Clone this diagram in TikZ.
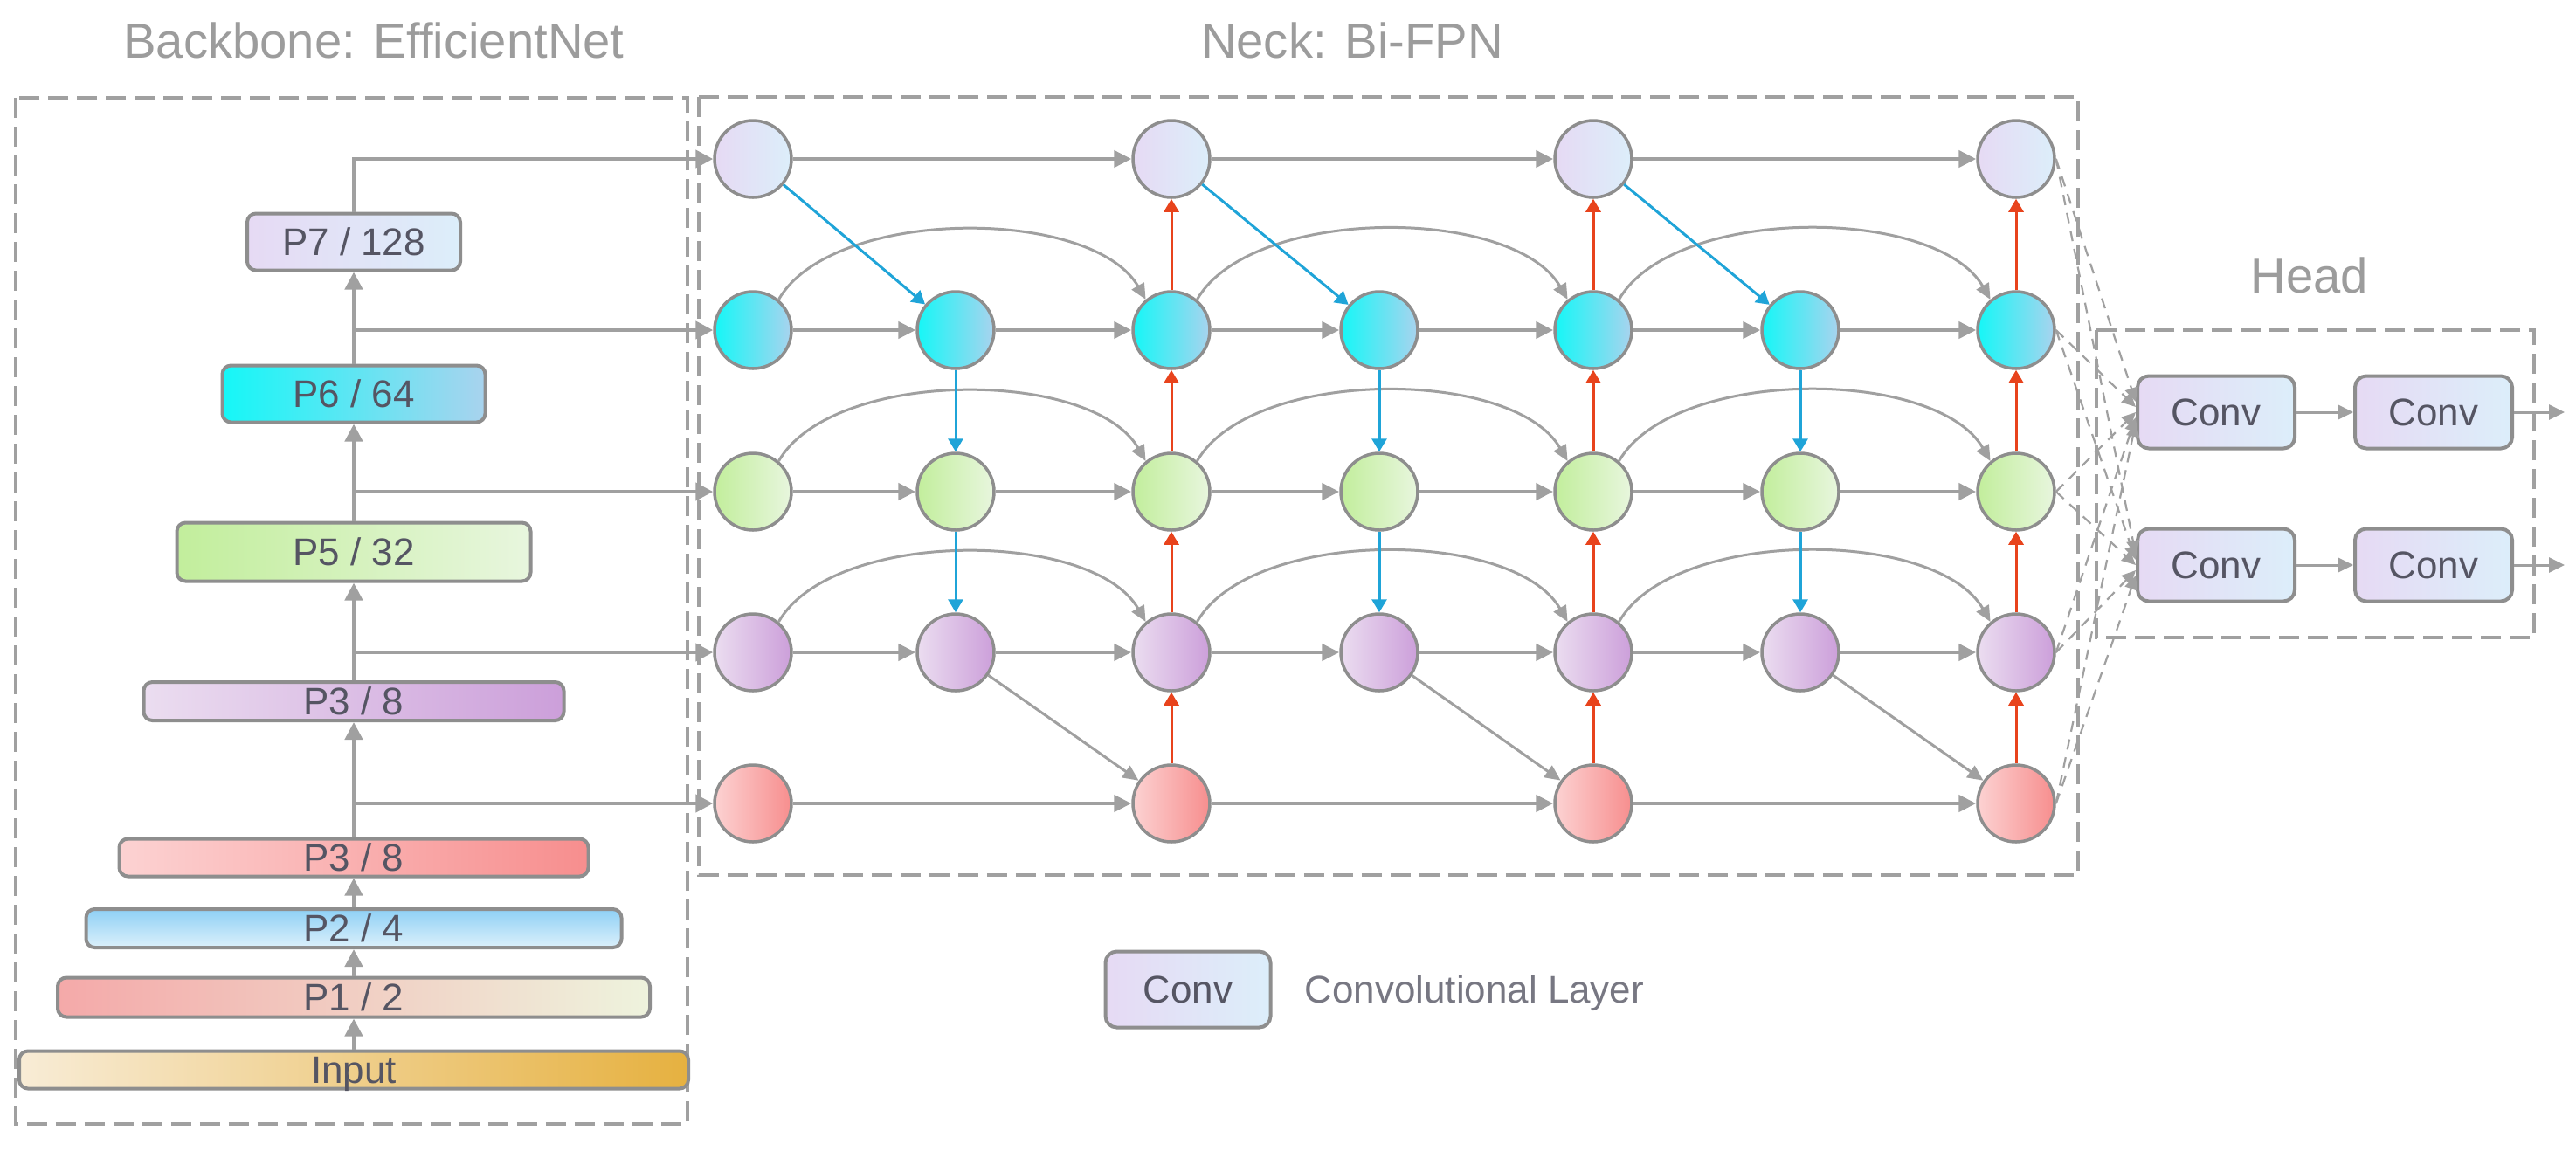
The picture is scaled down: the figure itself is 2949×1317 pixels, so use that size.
\documentclass[tikz,border=0pt]{standalone}
\usepackage{fontspec}
\setmainfont{Liberation Sans}
\usetikzlibrary{arrows.meta,calc}
\definecolor{lg}{HTML}{A0A0A0}
\definecolor{bord}{HTML}{8E8E8E}
\definecolor{redc}{HTML}{E8431C}
\definecolor{bluec}{HTML}{1FA4D8}
\definecolor{labtext}{HTML}{555563}
\definecolor{ttltext}{HTML}{9C9C9C}
\newcommand\labfnt{\fontsize{12.5}{14}\selectfont}
\newcommand\ttlfnt{\fontsize{16}{19}\selectfont}
\tikzset{
  dashbox/.style={draw=lg, line width=0.4mm, dash pattern=on 2.3mm off 1mm},
  bbox/.style={draw=bord, line width=0.4mm, rounded corners=1mm, inner sep=0pt,
    text=labtext, font=\labfnt, text height=8.95pt, text depth=0pt},
  convbox/.style={bbox, left color=lv7l, right color=lv7r, minimum width=18mm, minimum height=8.3mm, rounded corners=1.3mm},
  neckc/.style={circle, draw=bord, line width=0.35mm, minimum size=8.8mm, inner sep=0pt},
  lv7/.style={left color=lv7l, right color=lv7r},
  lv6/.style={left color=lv6l, right color=lv6r},
  lv5/.style={left color=lv5l, right color=lv5r},
  lv3/.style={left color=lv3l, right color=lv3r},
  lvr/.style={left color=lvrl, right color=lvrr},
  lv2/.style={top color=lv2t, bottom color=lv2b},
  lv1/.style={left color=lv1l, right color=lv1r},
  lvin/.style={left color=lvinl, right color=lvinr},
  ttl/.style={font=\ttlfnt, text=ttltext, inner sep=0pt, text height=11.5pt, text depth=0pt},
  bbarrow/.style={draw=lg, line width=0.45mm, -{Triangle[length=2mm,width=2mm]}},
  harrow/.style={draw=lg, line width=0.45mm, -{Triangle[length=2mm,width=1.9mm]}},
  arcarrow/.style={draw=lg, line width=0.3mm, -{Triangle[length=1.8mm,width=1.6mm]}},
  redup/.style={draw=redc, line width=0.3mm, -{Triangle[length=1.5mm,width=1.7mm]}},
  bluedn/.style={draw=bluec, line width=0.3mm, -{Triangle[length=1.5mm,width=1.7mm]}},
  smallarrow/.style={draw=lg, line width=0.3mm, -{Triangle[length=1.8mm,width=1.7mm]}},
  headdash/.style={draw=lg, line width=0.22mm, dash pattern=on 1.2mm off 0.9mm, -{Triangle[length=1.6mm,width=1.5mm]}},
}
\definecolor{lv7l}{HTML}{E6DAF4}
\definecolor{lv7r}{HTML}{DCEEFA}
\definecolor{lv6l}{HTML}{15F7F7}
\definecolor{lv6r}{HTML}{A9D3EE}
\definecolor{lv5l}{HTML}{C2EE9C}
\definecolor{lv5r}{HTML}{E8F6DE}
\definecolor{lv3l}{HTML}{EBDDF0}
\definecolor{lv3r}{HTML}{CC9FDA}
\definecolor{lvrl}{HTML}{FCD2D2}
\definecolor{lvrr}{HTML}{F78E8E}
\definecolor{lv2t}{HTML}{8ED0F5}
\definecolor{lv2b}{HTML}{DCF0FB}
\definecolor{lv1l}{HTML}{F4A9A9}
\definecolor{lv1r}{HTML}{EEF3DD}
\definecolor{lvinl}{HTML}{F8ECD6}
\definecolor{lvinr}{HTML}{E6B140}
\begin{document}
\begin{tikzpicture}[x=0.1mm,y=-0.1mm]
\useasboundingbox[fill=white] (0,0) rectangle (2949,1317);

% group frames
\draw[dashbox] (18,112) rectangle (787,1287);
\draw[dashbox] (800,111) rectangle (2379,1002);
\draw[dashbox] (2400,378) rectangle (2901,730);

% titles
\node[ttl] (tback) at (428,46) {Backbone: EfficientNet};
\node[ttl] (tneck) at (1548,46) {Neck: Bi-FPN};
\node[ttl] (thead) at (2644,315) {Head};

% backbone
\node[bbox, lv7, minimum width=24.4mm, minimum height=6.5mm] (bp7) at (405,277) {P7 / 128};
\node[bbox, lv6, minimum width=30.1mm, minimum height=6.5mm] (bp6) at (405,451) {P6 / 64};
\node[bbox, lv5, minimum width=40.5mm, minimum height=6.7mm] (bp5) at (405,632) {P5 / 32};
\node[bbox, lv3, minimum width=48.1mm, minimum height=4.4mm] (bp3p) at (405,803) {P3 / 8};
\node[bbox, lvr, minimum width=53.7mm, minimum height=4.3mm] (bp3r) at (405,982) {P3 / 8};
\node[bbox, lv2, minimum width=61.3mm, minimum height=4.4mm] (bp2) at (405,1063) {P2 / 4};
\node[bbox, lv1, minimum width=67.8mm, minimum height=4.5mm] (bp1) at (405,1142) {P1 / 2};
\node[bbox, lvin, minimum width=76.6mm, minimum height=4.3mm] (bin) at (405,1225) {Input};

\draw[bbarrow] (bin) -- (bp1);
\draw[bbarrow] (bp1) -- (bp2);
\draw[bbarrow] (bp2) -- (bp3r);
\draw[bbarrow] (bp3r) -- (bp3p);
\draw[bbarrow] (bp3p) -- (bp5);
\draw[bbarrow] (bp5) -- (bp6);
\draw[bbarrow] (bp6) -- (bp7);

% neck nodes
\foreach \c/\x in {1/862,3/1341,5/1824,7/2308} {
  \node[neckc, lv7] (n1\c) at (\x,182) {};
  \node[neckc, lvr] (n5\c) at (\x,920) {};
}
\foreach \c/\x in {1/862,2/1094,3/1341,4/1579,5/1824,6/2061,7/2308} {
  \node[neckc, lv6] (n2\c) at (\x,378) {};
  \node[neckc, lv5] (n3\c) at (\x,563) {};
  \node[neckc, lv3] (n4\c) at (\x,747) {};
}

% backbone taps into the neck
\coordinate (t2) at (405,378);
\coordinate (t3) at (405,563);
\coordinate (t4) at (405,747);
\coordinate (t5) at (405,920);
\draw[bbarrow] (bp7) |- (n11);
\draw[bbarrow] (t2) -- (n21);
\draw[bbarrow] (t3) -- (n31);
\draw[bbarrow] (t4) -- (n41);
\draw[bbarrow] (t5) -- (n51);

% horizontal flows
\foreach \a/\b in {1/3,3/5,5/7} {
  \draw[harrow] (n1\a) -- (n1\b);
  \draw[harrow] (n5\a) -- (n5\b);
}
\foreach \r in {2,3,4} {
  \foreach \a/\b in {1/2,2/3,3/4,4/5,5/6,6/7} {
    \draw[harrow] (n\r\a) -- (n\r\b);
  }
  \foreach \a/\b in {1/3,3/5,5/7} {
    \draw[arcarrow] (n\r\a.50) to[out=60,in=120,looseness=0.75] (n\r\b.130);
  }
}

% top-down (blue)
\foreach \a/\b in {1/2,3/4,5/6} {
  \draw[bluedn] (n1\a) -- (n2\b);
  \draw[bluedn] (n2\b) -- (n3\b);
  \draw[bluedn] (n3\b) -- (n4\b);
}
% bottom-up (red)
\foreach \c in {3,5,7} {
  \draw[redup] (n5\c) -- (n4\c);
  \draw[redup] (n4\c) -- (n3\c);
  \draw[redup] (n3\c) -- (n2\c);
  \draw[redup] (n2\c) -- (n1\c);
}
% diagonal into the lowest level
\foreach \a/\b in {2/3,4/5,6/7} {
  \draw[arcarrow] (n4\a) -- (n5\b);
}

% head
\node[convbox] (h11) at (2537,472) {Conv};
\node[convbox] (h12) at (2786,472) {Conv};
\node[convbox] (h21) at (2537,647) {Conv};
\node[convbox] (h22) at (2786,647) {Conv};
\coordinate (o1) at (2936,472);
\coordinate (o2) at (2936,647);
\draw[smallarrow] (h11) -- (h12);
\draw[smallarrow] (h21) -- (h22);
\draw[smallarrow] (h12) -- (o1);
\draw[smallarrow] (h22) -- (o2);
\foreach \r/\o in {1/1.2mm,2/0.6mm,3/0mm,4/-0.6mm,5/-1.2mm} {
  \draw[headdash] (n\r7.east) -- ([yshift=\o]h11.west);
  \draw[headdash] (n\r7.east) -- ([yshift=\o]h21.west);
}

% legend
\node[convbox, minimum width=18.9mm, minimum height=8.7mm] (leg) at (1360,1133) {Conv};
\node[anchor=west, font=\labfnt, text=labtext!80!white, inner sep=0pt] (legt) at (1493,1137) {Convolutional Layer};
\end{tikzpicture}
\end{document}
